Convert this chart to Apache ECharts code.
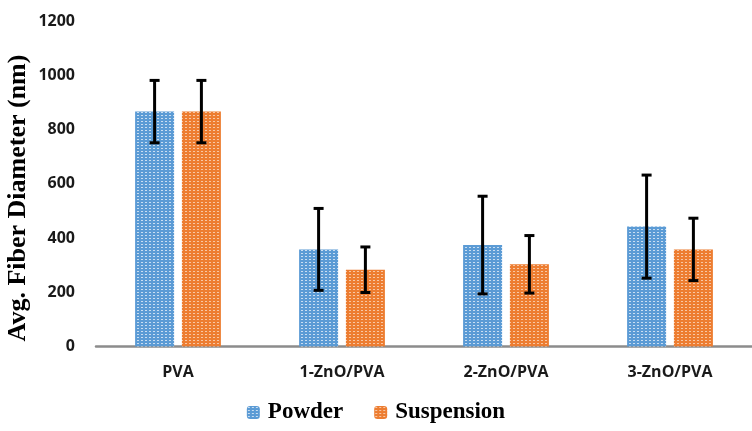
<!DOCTYPE html>
<html>
<head>
<meta charset="utf-8">
<script src="https://cdn.jsdelivr.net/npm/echarts@6/dist/echarts.min.js"></script>
<style>html,body{margin:0;padding:0;background:#fff}#c{width:752px;height:431px}</style>
</head>
<body>
<div id="c"></div>
<script>
var categories = ['PVA', '1-ZnO/PVA', '2-ZnO/PVA', '3-ZnO/PVA'];
var powder = [866, 358, 374, 442];
var powderErr = [115, 151, 180, 190];
var suspension = [866, 283, 303, 358];
var suspensionErr = [115, 84, 106, 115];
var yTicks = [0, 200, 400, 600, 800, 1000, 1200];
var yTitle = 'Avg. Fiber Diameter (nm)';

function pattern(base, dot) {
  var c = document.createElement('canvas');
  c.width = 4; c.height = 3;
  var ctx = c.getContext('2d');
  ctx.fillStyle = base; ctx.fillRect(0, 0, 4, 3);
  ctx.fillStyle = dot; ctx.fillRect(1, 1, 2, 1);
  return c;
}
var bluePat = {image: pattern('#5b9bd5', '#c9def2'), repeat: 'repeat'};
var orangePat = {image: pattern('#ed7d31', '#f8c7a4'), repeat: 'repeat'};

function errData(vals, errs) {
  return vals.map(function (v, i) { return [i, v - errs[i], v + errs[i]]; });
}
function errRender(offset) {
  return function (params, api) {
    var lo = api.coord([api.value(0), api.value(1)]);
    var hi = api.coord([api.value(0), api.value(2)]);
    var x = lo[0] + offset, cap = 5;
    var st = {stroke: '#000', lineWidth: 3};
    return {type: 'group', children: [
      {type: 'line', shape: {x1: x, y1: lo[1], x2: x, y2: hi[1]}, style: st},
      {type: 'line', shape: {x1: x - cap, y1: lo[1], x2: x + cap, y2: lo[1]}, style: st},
      {type: 'line', shape: {x1: x - cap, y1: hi[1], x2: x + cap, y2: hi[1]}, style: st}
    ]};
  };
}

var chart = echarts.init(document.getElementById('c'));
chart.setOption({
  animation: false,
  backgroundColor: '#fff',
  grid: {left: 96, top: 21, width: 665, bottom: 84.5, containLabel: false},
  graphic: [{
    type: 'text', x: 18, y: 198, rotation: Math.PI / 2,
    style: {text: yTitle, fontFamily: 'Liberation Serif', fontWeight: 'bold', fontSize: 26, fill: '#000',
      align: 'center', verticalAlign: 'middle'}
  }],
  legend: {
    data: ['Powder', 'Suspension'],
    bottom: 2, left: 'center',
    itemWidth: 13, itemHeight: 13, itemGap: 31,
    selectedMode: false,
    textStyle: {fontFamily: 'Liberation Serif', fontWeight: 'bold', fontSize: 23, color: '#000', padding: [0, 0, 0, 3]}
  },
  xAxis: {
    type: 'category', data: categories,
    axisLine: {lineStyle: {color: '#8c8c8c', width: 2.5}},
    axisTick: {show: false},
    axisLabel: {fontFamily: 'Open Sans', fontWeight: 'bold', fontSize: 16, color: '#1a1a1a', margin: 18}
  },
  yAxis: {
    type: 'value', min: 0, max: 1200, interval: 200,
    axisLine: {show: false}, axisTick: {show: false},
    splitLine: {show: false},
    axisLabel: {fontFamily: 'Open Sans', fontWeight: 'bold', fontSize: 16, color: '#1a1a1a', margin: 21,
      formatter: function (v) { return yTicks.indexOf(v) >= 0 ? String(v) : ''; }}
  },
  series: [
    {name: 'Powder', type: 'bar', data: powder, barWidth: 39, barGap: '20%', itemStyle: {color: bluePat}},
    {name: 'Suspension', type: 'bar', data: suspension, barWidth: 39, itemStyle: {color: orangePat}},
    {name: 'errP', type: 'custom', data: errData(powder, powderErr), renderItem: errRender(-23.4), z: 10, silent: true},
    {name: 'errS', type: 'custom', data: errData(suspension, suspensionErr), renderItem: errRender(23.4), z: 10, silent: true}
  ]
});
</script>
</body>
</html>
